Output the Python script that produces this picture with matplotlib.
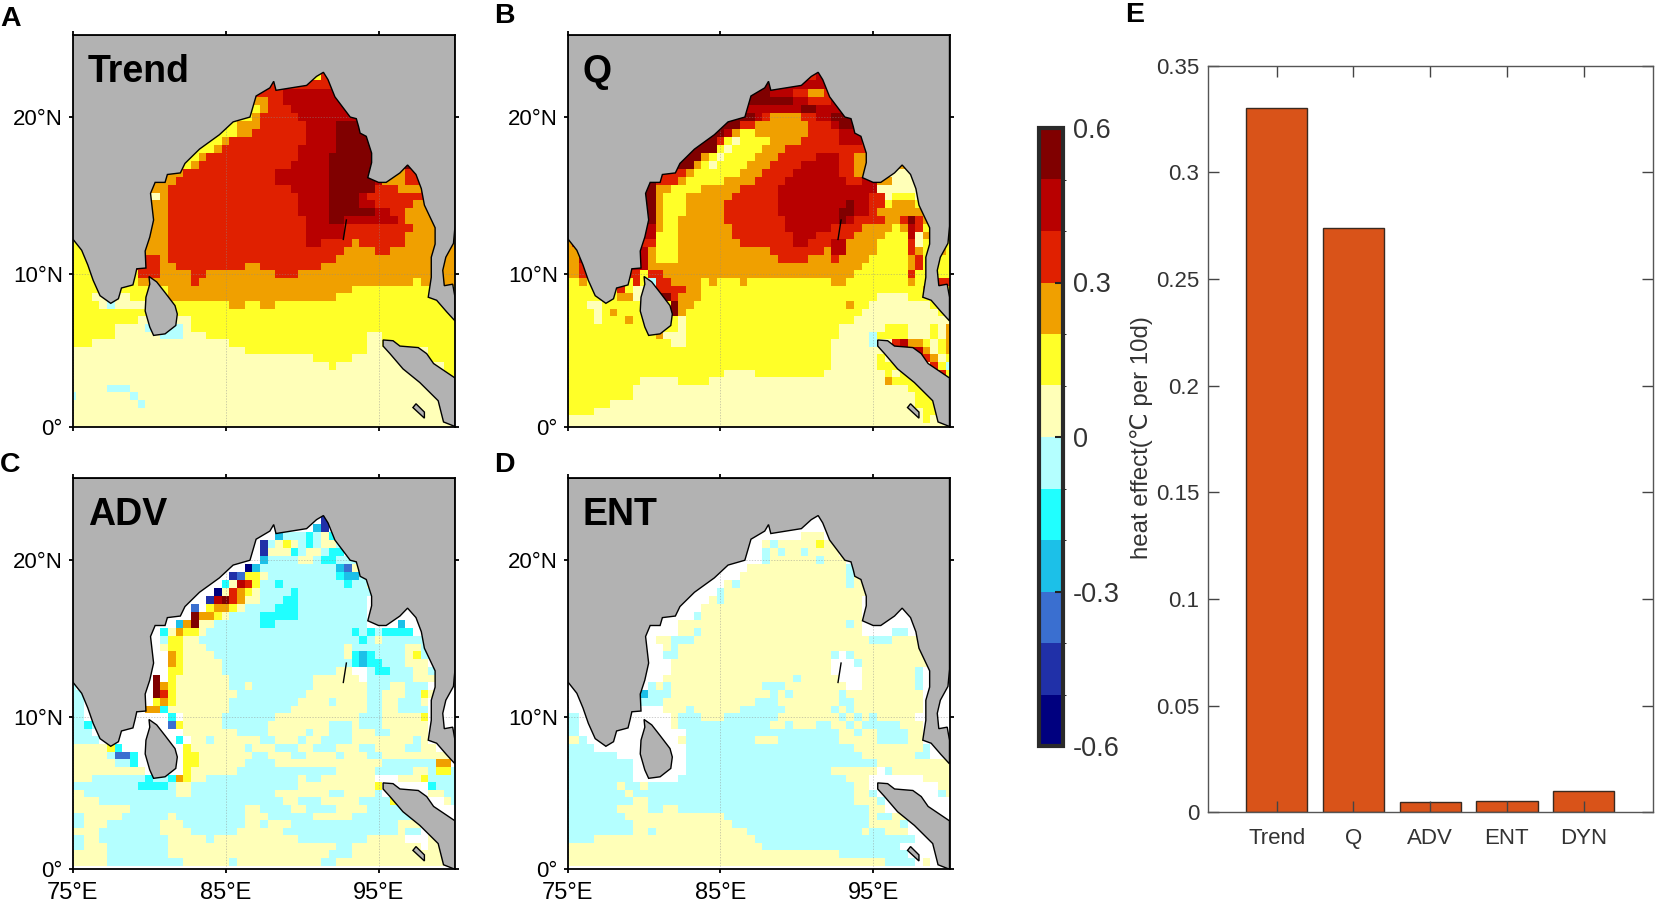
import numpy as np
import matplotlib
matplotlib.use("Agg")
import matplotlib.pyplot as plt
from matplotlib.colors import ListedColormap, BoundaryNorm
from matplotlib.cm import ScalarMappable

plt.rcParams['font.family'] = ['Liberation Sans', 'DejaVu Sans']

W, H = 1659, 902

# colour classes, blue to red, one per 0.1 step
levels = [-0.6, -0.5, -0.4, -0.3, -0.2, -0.1, 0, 0.1, 0.2, 0.3, 0.4, 0.5, 0.6]
class_colors = ['#00007f', '#2030a8', '#3a6fd0', '#1cc0e8', '#20ffff', '#b4ffff',
                '#ffffb8', '#ffff28', '#f0a000', '#e02000', '#b80000', '#800000']
symbols = 'abcdef123456'

# Each row is one latitude (22.5N first, 0N last, 0.5 deg apart)
# "s:n" = class s up to longitude column n, "." = no data
trend_rows = [
    "2:33 4:35", "4:40", "4:28 5:40", "3:26 4:28 5:40", "2:25 3:26 4:29 5:40",
    "2:24 3:25 4:30 5:40", "2:22 3:25 4:31 5:35 6:40", "2:22 3:24 4:31 5:35 6:40",
    "2:20 3:21 4:31 5:35 6:41", "2:19 3:20 4:30 5:35 6:41", "2:17 3:18 4:30 5:34 6:41",
    "2:16 3:17 4:29 5:34 6:41", "3:15 4:27 5:34 6:41 3:44 4:48",
    "3:14 4:27 5:34 6:40 5:41 3:44 4:48", "3:13 4:29 5:34 6:40 4:43 3:46 4:48",
    "1:12 3:13 4:30 5:34 6:38 5:39 4:48", "3:13 4:30 5:34 6:38 5:40 4:45 3:48",
    "3:13 4:30 5:34 6:40 5:42 4:44 3:48", "3:13 4:31 5:34 6:36 5:43 4:44 3:48",
    "3:13 4:31 5:36 4:45 3:48", "3:13 4:31 5:36 4:44 3:48",
    "2:3 3:13 4:31 5:33 4:37 3:38 4:44 3:51", "2:3 3:13 4:36 3:40 4:42 3:51",
    "2:3 4:12 3:13 4:35 3:51", "2:3 4:12 3:14 4:23 3:25 4:33 3:51",
    "2:9 4:12 3:16 4:18 3:27 4:30 3:51", "2:9 3:16 4:17 3:45 2:46 3:51",
    "2:13 3:37 2:51", "2:3 1:8 2:13 3:35 2:51",
    "2:4 1:5 f:6 1:10 2:21 3:23 2:25 3:27 2:51", "2:51", "2:9 1:16 2:51",
    "2:6 1:10 f:15 1:16 2:51", "2:6 1:12 f:15 1:18 2:39 1:41 2:51",
    "2:3 1:21 2:39 1:41 2:51", "1:23 2:39 1:47 2:51", "1:32 2:37 1:47 2:51",
    "1:34 2:35 1:49 2:51", "1:49 2:51", "1:51", "1:5 f:8 1:51", "f:1 1:8 f:9 1:51",
    "1:9 f:10 1:51", "1:51", "1:51", "1:51",
]
q_rows = [
    "4:33 5:40", "6:28 5:40", "6:27 5:30 4:32 3:34 4:40", "6:30 5:32 4:35 5:40",
    "5:31 6:33 5:37 6:40", "6:25 5:26 4:27 3:31 4:33 5:35 6:40",
    "6:23 4:25 3:32 4:35 5:36 6:40", "6:21 5:22 3:23 2:25 3:32 4:36 5:39 4:41",
    "6:20 4:21 2:22 1:23 2:27 3:31 4:36 5:39 4:41", "6:20 2:21 1:22 2:26 3:29 4:41",
    "6:18 3:19 2:20 1:21 2:25 3:28 4:33 5:36 4:38 3:40",
    "6:17 3:18 2:19 1:20 2:24 3:27 4:31 5:36 4:38 3:40",
    "4:16 3:17 2:23 3:26 4:30 5:36 4:38 3:40 1:51",
    "6:12 4:15 3:16 2:21 3:25 4:29 5:37 4:39 5:41 3:43 1:51",
    "6:12 3:14 2:18 3:23 4:28 5:41 1:48",
    "6:12 3:13 2:16 3:22 4:28 5:40 4:42 1:43 2:46 1:48",
    "6:12 3:13 2:16 3:21 4:28 5:37 6:38 5:40 4:42 2:43 3:46 2:48",
    "6:12 3:13 2:16 3:21 4:28 5:36 6:38 5:40 4:41 3:48",
    "6:12 3:13 2:15 3:21 4:29 5:36 6:37 5:38 4:42 3:44 4:45 6:46 4:47 3:48",
    "5:12 3:13 2:15 3:22 4:29 5:35 4:39 3:43 2:44 3:45 5:46 4:47 2:48",
    "3:1 5:12 2:15 3:22 4:30 5:33 4:38 3:42 2:45 5:46 1:47 3:48 2:51",
    "3:1 4:12 2:15 3:23 4:30 5:32 4:35 5:37 3:41 2:45 4:46 1:47 2:51",
    "3:2 5:11 3:12 2:15 3:27 4:34 3:35 5:37 3:41 2:45 4:46 3:47 2:49 3:50 2:51",
    "3:2 5:11 3:12 2:15 3:28 4:32 3:35 4:36 3:40 2:45 3:46 4:47 2:51",
    "3:2 4:3 5:11 3:39 2:45 3:46 4:47 2:51",
    "3:2 4:3 4:10 2:11 4:13 3:38 2:45 4:46 2:51",
    "2:2 3:3 2:9 4:10 2:11 f:12 4:14 3:18 2:19 3:20 2:23 3:24 2:35 3:37 2:45 3:46 2:49 4:51",
    "2:7 4:8 2:9 1:11 4:16 3:18 2:47 3:48 2:51",
    "2:7 3:9 1:11 6:14 4:15 3:18 2:41 1:45 2:48 1:51",
    "2:3 1:5 2:14 6:15 3:17 2:37 3:38 2:40 1:48 2:51",
    "2:4 1:5 2:6 3:7 2:14 6:15 3:16 2:39 1:49 2:51", "2:4 1:5 2:8 3:9 2:15 1:16 2:38 1:51",
    "2:15 1:16 2:36 1:42 2:45 1:48 2:49 1:50 3:51",
    "2:12 3:13 1:16 2:36 1:40 f:41 2:45 1:48 2:49 1:50 3:51",
    "2:14 1:16 2:35 1:40 f:41 1:43 4:44 5:45 3:47 2:48 1:49 2:50 3:51",
    "2:35 1:45 5:47 3:48 1:49 2:50 3:51", "2:35 1:41 2:42 1:46 4:48 3:49 1:50 2:51",
    "2:35 1:41 2:44 1:48 4:49 2:50 f:51", "2:21 1:25 2:34 1:42 2:43 1:44 2:46 1:49 4:50 2:51",
    "2:10 1:15 2:19 1:42 3:43 2:51", "2:9 1:45 2:51", "2:9 1:46 2:51", "2:6 1:46 2:51",
    "2:4 1:47 2:49 1:51", "1:47 2:48 1:51", "1:51",
]
adv_rows = [
    ".:33 b:34 .:51", ".:32 d:33 b:34 .:51", ".:27 d:28 f:31 e:32 f:33 1:34 e:35 .:51",
    ".:25 b:26 f:27 1:28 2:29 1:30 f:31 e:32 f:33 1:35 f:36 .:51",
    ".:25 b:26 1:29 e:30 f:31 1:33 f:34 e:36 .:51",
    ".:25 d:26 f:30 1:32 f:33 e:35 f:38 .:51",
    ".:23 a:24 d:25 f:35 d:36 c:37 1:38 .:51",
    ".:21 b:22 c:23 2:25 1:26 f:35 e:36 d:38 f:39 .:51",
    ".:20 e:21 1:22 5:23 4:24 2:25 f:27 e:28 f:36 e:37 f:39 1:40 .:51",
    ".:19 a:20 1:21 4:22 3:23 2:24 1:25 f:29 e:30 f:40 a:41 .:51",
    ".:18 b:19 5:20 6:21 4:22 3:23 1:25 f:28 e:30 f:39 .:51",
    ".:16 c:17 .:18 2:19 3:21 2:22 1:23 f:27 e:30 f:39 .:51",
    ".:16 6:17 3:19 2:20 1:21 f:25 e:30 f:39 .:51",
    ".:14 d:15 3:16 6:17 1:19 f:25 e:27 f:39 .:43 d:44 .:51",
    ".:12 e:13 1:14 3:15 2:17 1:18 f:37 e:38 f:39 e:40 f:41 e:45 .:51",
    ".:12 f:13 2:15 1:17 f:38 e:39 f:40 1:41 f:48 .:51",
    ".:12 1:13 2:15 1:18 f:36 1:37 f:44 1:46 f:48 .:51",
    ".:13 3:14 2:15 1:19 f:36 1:37 e:38 d:39 e:40 f:44 1:45 2:46 f:48 .:51",
    ".:13 3:14 2:15 1:20 f:37 e:38 d:39 e:41 f:44 1:47 .:51",
    ".:13 2:15 1:20 f:35 1:37 .:39 f:40 e:42 f:45 1:47 f:48 .:51",
    "f:1 .:11 6:12 .:13 2:14 1:21 f:32 1:38 .:39 f:45 1:48 .:51",
    "f:1 .:11 6:12 3:13 2:14 1:21 f:23 1:24 f:32 1:39 f:42 1:44 f:47 .:51",
    "f:2 .:11 6:12 4:13 2:14 1:22 f:31 1:39 f:41 1:44 f:46 2:47 1:48 .:51",
    "f:2 .:11 2:12 3:13 2:14 1:21 f:30 1:34 f:35 1:39 f:41 1:43 f:46 1:47 .:51",
    "f:2 .:10 3:12 e:13 1:21 f:29 1:39 f:41 1:43 f:47 .:51",
    "f:2 .:13 e:14 .:15 1:20 f:27 1:38 f:41 1:46 2:47 .:51",
    "f:2 e:3 f:4 .:13 c:14 2:15 1:20 f:26 1:34 f:37 1:38 f:41 1:47 .:51",
    "f:3 .:15 1:22 f:26 1:31 f:32 1:34 f:37 1:40 f:42 1:47 .:51",
    "f:4 .:14 e:15 .:16 1:18 f:19 1:25 f:27 1:30 f:31 1:33 f:37 1:45 f:46 1:47 .:51",
    "1:5 2:6 e:7 .:15 2:16 1:23 f:24 1:27 f:30 1:32 f:35 1:38 f:40 1:44 f:46 1:48 .:51",
    "1:5 f:6 c:8 e:9 .:15 2:17 1:24 f:26 1:29 f:31 1:35 f:36 1:39 f:41 1:51",
    "1:6 f:8 e:9 .:15 2:17 1:23 f:27 1:41 f:48 3:50 .:51",
    "1:10 .:15 2:16 1:22 f:35 1:40 f:45 1:47 f:48 2:50 f:51",
    "1:3 f:10 e:11 f:13 e:14 3:15 2:16 1:18 f:30 1:31 f:33 1:40 .:43 1:46 2:47 f:51",
    "f:9 e:13 f:14 1:16 f:30 1:40 2:41 .:47 e:48 f:51",
    "1:2 f:14 1:16 f:27 1:34 f:36 1:40 f:41 .:47 1:49 f:51",
    "1:4 f:28 1:30 f:33 1:38 f:42 2:43 .:49 1:50 f:51",
    "1:8 f:23 1:25 f:29 1:31 f:35 1:39 f:44 .:51",
    "f:2 1:7 f:13 1:14 f:23 1:26 f:32 1:37 f:46 1:47 .:51",
    "f:2 1:5 f:12 1:15 f:23 1:25 f:26 1:29 f:43 1:46 .:51",
    "1:4 f:12 1:16 f:22 1:28 f:43 1:44 f:46 .:51",
    "f:2 1:4 f:13 1:18 f:19 1:30 f:39 1:44 .:47 1:49 .:51",
    "f:2 1:5 f:13 1:35 f:37 1:46 .:47 1:49 2:50 .:51",
    "1:5 f:13 1:34 f:37 1:49 2:50 .:51",
    "1:5 f:15 1:21 f:22 1:33 f:35 1:49 2:50 .:51", ".:51",
]
ent_rows = [
    ".:51", ".:51", ".:31 1:34 .:51", ".:26 1:27 f:28 1:33 2:34 1:36 .:51",
    ".:26 f:27 1:28 f:29 1:31 f:32 1:36 .:51", ".:26 f:27 1:33 f:34 1:37 .:51",
    ".:24 1:37 f:38 .:51", ".:23 1:37 f:38 1:39 .:51", ".:21 1:22 f:23 1:37 f:38 1:40 .:51",
    ".:20 f:21 1:40 .:51", ".:19 1:20 f:21 1:39 .:51", ".:18 1:39 .:51",
    ".:17 f:18 1:39 .:51", ".:15 1:37 f:38 1:39 .:51",
    ".:15 1:17 f:18 1:39 .:43 f:45 .:51", ".:12 1:14 f:17 1:40 f:43 1:47 .:51",
    ".:13 1:14 f:15 1:47 .:51", ".:13 f:15 1:35 f:36 .:37 f:38 1:47 .:51",
    ".:14 1:35 .:38 f:39 1:48 .:51", ".:14 1:35 .:39 1:46 f:47 .:51",
    ".:13 1:30 f:31 1:36 .:39 1:46 f:47 .:51",
    ".:11 f:12 1:13 f:14 1:26 f:29 1:37 .:39 1:46 f:47 .:51",
    ".:10 d:11 f:14 1:27 f:28 1:29 f:30 1:36 f:37 1:47 .:51",
    ".:10 f:13 1:25 f:28 1:36 f:38 1:47 .:51",
    ".:13 1:16 f:17 1:23 f:29 1:35 f:36 1:37 f:38 1:47 .:51",
    "f:2 .:14 1:15 f:18 1:21 f:28 1:36 f:37 1:38 f:39 1:40 f:41 1:46 .:51",
    "f:2 .:14 1:15 f:27 1:29 f:30 1:33 f:35 1:37 f:38 1:39 f:44 1:47 .:51",
    "f:2 .:16 f:36 1:38 f:39 1:41 f:45 1:47 .:51",
    "1:2 f:3 .:15 1:16 f:25 1:28 f:36 1:41 f:45 1:47 .:51",
    "f:4 .:16 f:38 1:47 f:48 .:51", "f:7 .:16 f:39 1:46 f:48 .:51",
    "f:9 .:16 f:41 1:51", "f:9 .:16 f:35 1:41 .:42 f:43 1:51",
    "f:9 .:15 f:37 1:40 .:47 1:51", "f:7 1:8 f:10 1:11 f:38 1:40 .:49 1:51",
    "f:8 1:9 f:38 1:40 f:41 .:49 f:50 1:51", "f:9 1:11 f:38 1:41 f:42 .:51",
    "f:7 1:11 f:13 1:15 f:40 1:42 .:51", "f:8 1:21 f:40 1:41 f:43 1:45 .:51",
    "f:9 1:22 f:40 1:42 1:44 f:45 .:51", "f:9 1:11 f:12 1:24 f:39 1:40 f:42 1:45 .:51",
    "f:4 1:25 f:46 .:51", "1:26 f:44 .:51", "1:36 f:45 .:51",
    "1:42 f:46 .:47 1:48 .:51", ".:51",
]

# Coastlines (lon, lat)
land_lon = [75.0, 75.6, 76.0, 76.35, 76.8, 77.5, 78.0, 78.2, 78.95, 79.1, 79.2, 79.8, 79.75, 80.05,
            80.3, 80.1, 80.4, 81.05, 81.2, 82.05, 82.35, 83.3, 84.6, 85.5, 86.6, 87.0, 87.9, 88.15,
            88.3, 90.3, 90.95, 91.4, 91.7, 92.15, 93.15, 93.55, 93.7, 93.8, 94.2, 94.55, 94.55, 94.3,
            95.0, 95.5, 96.4, 96.9, 97.45, 97.8, 98.0, 98.7, 98.7, 98.45, 98.45, 98.25, 98.8, 99.45,
            100.0, 100.0, 99.85, 99.3, 99.2, 99.4, 99.9, 100.0, 100.0, 75.0]
land_lat = [12.3, 11.55, 10.6, 9.6, 8.6, 8.1, 8.4, 9.1, 9.3, 9.9, 10.35, 10.4, 11.5, 12.4,
            13.5, 15.2, 15.9, 15.9, 16.4, 16.5, 17.1, 18.0, 18.9, 19.7, 20.0, 21.3, 21.8, 22.2,
            21.65, 21.95, 22.5, 22.75, 22.3, 21.25, 20.0, 19.9, 19.4, 19.0, 18.8, 17.75, 17.15, 16.2,
            15.9, 15.9, 16.5, 17.0, 16.4, 15.5, 14.45, 13.0, 11.95, 11.1, 9.8, 8.5, 8.3, 7.55,
            6.95, 8.5, 9.35, 9.25, 10.25, 11.1, 12.0, 13.1, 25.0, 25.0]
lanka_lon = [80.0, 80.5, 81.05, 81.7, 81.85, 81.75, 81.05, 80.3, 80.05, 79.75, 79.8, 80.05]
lanka_lat = [9.85, 9.5, 8.8, 7.95, 7.4, 6.65, 6.1, 6.0, 6.55, 7.6, 8.5, 9.35]
sumatra_lon = [95.3, 95.95, 96.4, 97.6, 98.15, 98.6, 100.0, 100.0, 99.25, 98.9, 97.7, 96.6, 95.75, 95.3]
sumatra_lat = [5.7, 5.65, 5.3, 5.2, 4.8, 4.15, 3.2, 0.0, 0.3, 1.7, 2.9, 3.8, 4.8, 5.3]
nias_lon = [97.25, 97.45, 98.0, 98.0]
nias_lat = [1.25, 1.5, 0.95, 0.55]
andaman_lon = [92.7, 92.9]
andaman_lat = [12.25, 13.5]

# Panel E
bar_names = ['Trend', 'Q', 'ADV', 'ENT', 'DYN']
bar_values = [0.33, 0.2737, 0.0049, 0.0055, 0.0102]


def decode(rows):
    # turn the run-length rows into a lat x lon array
    field = np.full((51, 51), np.nan)
    for n, row in enumerate(rows):
        j = 45 - n
        start = 0
        sym = '.'
        for token in row.split():
            sym, end = token.split(':')
            end = int(end)
            if sym != '.':
                field[j, start:end] = (levels[symbols.index(sym)] + levels[symbols.index(sym) + 1]) / 2
            start = end
        if sym != '.':
            field[j, start:] = (levels[symbols.index(sym)] + levels[symbols.index(sym) + 1]) / 2
    return field


def merc(lat):
    return np.log(np.tan(np.pi / 4 + np.radians(np.asarray(lat, dtype=float)) / 2))


def inv_merc(y):
    return np.degrees(2 * np.arctan(np.exp(np.asarray(y, dtype=float))) - np.pi / 2)


def px_axes(x0, y0, x1, y1):
    return fig.add_axes([x0 / W, 1 - y1 / H, (x1 - x0) / W, (y1 - y0) / H])


cmap = ListedColormap(class_colors)
norm = BoundaryNorm(levels, cmap.N)
lon_edges = 74.75 + 0.5 * np.arange(52)
lat_edges = -0.25 + 0.5 * np.arange(52)

fig = plt.figure(figsize=(W / 100, H / 100), dpi=100)


def draw_map(box, rows, title, bottom_labels):
    ax = px_axes(*box)
    ax.set_yscale('function', functions=(merc, inv_merc))
    ax.pcolormesh(lon_edges, lat_edges, decode(rows), cmap=cmap, norm=norm)
    for lon, lat in [(land_lon, land_lat), (lanka_lon, lanka_lat),
                     (sumatra_lon, sumatra_lat), (nias_lon, nias_lat)]:
        ax.fill(lon, lat, facecolor='#b2b2b2', edgecolor='black', linewidth=1.0, zorder=3)
    ax.plot(andaman_lon, andaman_lat, color='black', linewidth=1.0, zorder=3)
    ax.set_xlim(75, 100)
    ax.set_ylim(0, 25)
    ax.set_xticks([75, 85, 95])
    ax.set_yticks([0, 10, 20])
    ax.minorticks_off()
    ax.set_xticklabels(['75°E', '85°E', '95°E'] if bottom_labels else [])
    ax.set_yticklabels(['0°', '10°N', '20°N'])
    ax.tick_params(top=True, right=True, direction='out', length=3, width=1.3,
                   labelsize=16, pad=4, colors='black')
    ax.tick_params(axis='x', labelsize=17, pad=6)
    ax.grid(True, color='#8c8c8c', linestyle=(0, (2, 2)), linewidth=0.5, alpha=0.6, zorder=4)
    ax.set_axisbelow(False)
    for s in ax.spines.values():
        s.set_linewidth(1.3)
        s.set_zorder(6)
    ax.text(0.04, 0.905, title, transform=ax.transAxes, fontsize=27, fontweight='bold',
            ha='left', va='center', zorder=7)
    return ax


draw_map((72.5, 35, 455, 426.5), trend_rows, 'Trend', False)
draw_map((567.7, 35, 949.5, 426.5), q_rows, 'Q', False)
draw_map((72.5, 478.3, 455, 869.3), adv_rows, 'ADV', True)
draw_map((567.7, 478.3, 949.5, 869.3), ent_rows, 'ENT', True)

# Colour bar
cax = px_axes(1039, 128, 1063, 746)
cb = fig.colorbar(ScalarMappable(norm=norm, cmap=cmap), cax=cax, spacing='proportional')
cb.set_ticks([-0.6, -0.3, 0, 0.3, 0.6])
cb.set_ticklabels(['-0.6', '-0.3', '0', '0.3', '0.6'])
cb.ax.tick_params(direction='in', length=6, width=1.5, labelsize=19.5, pad=7,
                  color='#222222', labelcolor='#333333')
cb.outline.set_linewidth(3)
cb.outline.set_edgecolor('#2a2a2a')
cb.dividers.set_visible(False)

# Bar panel
bax = px_axes(1207.7, 65.7, 1652.7, 812.3)
bax.bar(np.arange(1, 6), bar_values, width=0.8, color='#d95319', edgecolor='#3a2a20', linewidth=1.0)
bax.set_xlim(0.1, 5.9)
bax.set_ylim(0, 0.35)
bax.set_xticks(np.arange(1, 6))
bax.set_xticklabels(bar_names)
bax.set_yticks([0, 0.05, 0.1, 0.15, 0.2, 0.25, 0.3, 0.35])
bax.set_yticklabels(['0', '0.05', '0.1', '0.15', '0.2', '0.25', '0.3', '0.35'])
bax.tick_params(top=True, right=True, direction='in', length=8, width=1.0, labelsize=16,
                color='#444444', labelcolor='#333333', pad=6)
bax.tick_params(axis='x', pad=11)
for s in bax.spines.values():
    s.set_color('#555555')
    s.set_linewidth(1.0)
fig.text(1142 / W, 1 - 438 / H, 'heat effect(℃ per 10d)', rotation=90, fontsize=17.3,
         color='#333333', ha='center', va='center')

# Panel letters
for letter, x, y in [('A', 0, 19), ('B', 494, 16), ('C', 0, 465), ('D', 494, 465), ('E', 1125, 15)]:
    fig.text(x / W, 1 - y / H, letter, fontsize=20.5, fontweight='bold', ha='left', va='center')

fig.savefig('out.png', dpi=100)
